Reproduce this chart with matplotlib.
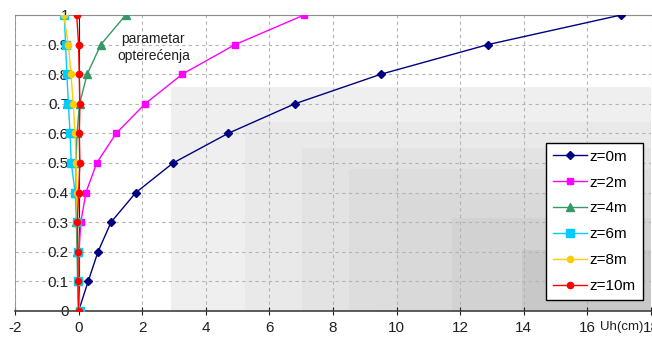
import matplotlib.pyplot as plt
from matplotlib.patches import Rectangle

plt.rcParams['font.family'] = ['Liberation Sans', 'DejaVu Sans']
plt.rcParams['axes.unicode_minus'] = False

# load parameter levels (y) and horizontal displacement Uh in cm (x)
levels = [0, 0.1, 0.2, 0.3, 0.4, 0.5, 0.6, 0.7, 0.8, 0.9, 1.0]
uh_z0 = [0, 0.30, 0.61, 1.02, 1.80, 2.97, 4.70, 6.80, 9.51, 12.87, 17.06]
uh_z2 = [0, 0.0, 0.01, 0.07, 0.23, 0.57, 1.18, 2.09, 3.26, 4.92, 7.09]
uh_z4 = [0, -0.03, -0.05, -0.07, -0.08, -0.08, -0.05, 0.03, 0.27, 0.70, 1.48]
uh_z6 = [0.04, -0.02, -0.02, -0.05, -0.11, -0.23, -0.27, -0.32, -0.37, -0.41, -0.45]
uh_z8 = [0, -0.02, -0.03, -0.04, -0.06, -0.08, -0.11, -0.17, -0.24, -0.32, -0.47]
uh_z10 = [0, -0.02, -0.02, -0.04, 0.0, 0.04, 0.02, 0.04, 0.02, 0.0, -0.06]

series = [
    ('z=0m', uh_z0, '#000080', 'D', 4.0),
    ('z=2m', uh_z2, '#ff00ff', 's', 4.5),
    ('z=4m', uh_z4, '#339966', '^', 5.5),
    ('z=6m', uh_z6, '#00ccff', 's', 6.0),
    ('z=8m', uh_z8, '#ffcc00', 'o', 4.5),
    ('z=10m', uh_z10, '#ff0000', 'o', 4.5),
]

fig = plt.figure(figsize=(6.52, 3.42), dpi=100)
ax = fig.add_axes([15 / 652, 31 / 342, 636 / 652, 296 / 342])
ax.set_xlim(-2, 18)
ax.set_ylim(0, 1)

# stepped grey background in the lower right corner
shades = [(2.91, 0.757, '#efefef'), (5.23, 0.639, '#e9e9e9'),
          (7.03, 0.551, '#e3e3e3'), (8.50, 0.480, '#dddddd'),
          (10.01, 0.399, '#d9d9d9'), (11.74, 0.314, '#d2d2d2'),
          (13.94, 0.206, '#c8c8c8')]
for x0, y1, c in shades:
    ax.add_patch(Rectangle((x0, 0), 18 - x0, y1, facecolor=c,
                           edgecolor='none', zorder=0))

ax.set_xticks(range(-2, 19, 2))
ax.set_yticks(levels)
ax.set_yticklabels([f'{v:g}' for v in levels])
ax.grid(True, color='#b4b4b4', linestyle=(0, (3, 3)), linewidth=0.8, zorder=1)
ax.set_axisbelow(True)

for label, vals, color, marker, ms in series:
    ax.plot(vals, levels, color=color, marker=marker, markersize=ms,
            linewidth=1.0, label=label, zorder=3)

# axes: vertical axis crosses at x=0, plot area border in grey
ax.spines['left'].set_position(('data', 0))
ax.spines['left'].set_color('#202020')
ax.spines['left'].set_zorder(2.5)
ax.spines['bottom'].set_color('#404040')
ax.spines['bottom'].set_linewidth(1.2)
ax.spines['top'].set_color('#8c8c8c')
ax.spines['right'].set_visible(False)
ax.axvline(-2, color='#8c8c8c', linewidth=1.2, zorder=2)

ax.tick_params(axis='x', direction='inout', length=6, pad=4,
               labelsize=11, colors='#202020')
ax.tick_params(axis='y', direction='out', length=0, pad=7,
               labelsize=11, colors='#202020')

ax.text(17.75, -0.054, 'Uh(cm)', ha='right', va='center', fontsize=9.5,
        color='#202020', clip_on=False)
ax.text(2.35, 0.89, 'parametar\nopterećenja', ha='center', va='center',
        fontsize=10, color='#202020', linespacing=1.3)

leg = ax.legend(loc='lower right', bbox_to_anchor=(0.987, 0.037),
                fontsize=11, frameon=True, fancybox=False,
                borderpad=0.45, labelspacing=0.78, handlelength=2.2,
                handletextpad=0.2, borderaxespad=0)
leg.get_frame().set_edgecolor('black')
leg.get_frame().set_linewidth(1.0)
leg.get_frame().set_alpha(1)

fig.savefig('out.png', dpi=100)
